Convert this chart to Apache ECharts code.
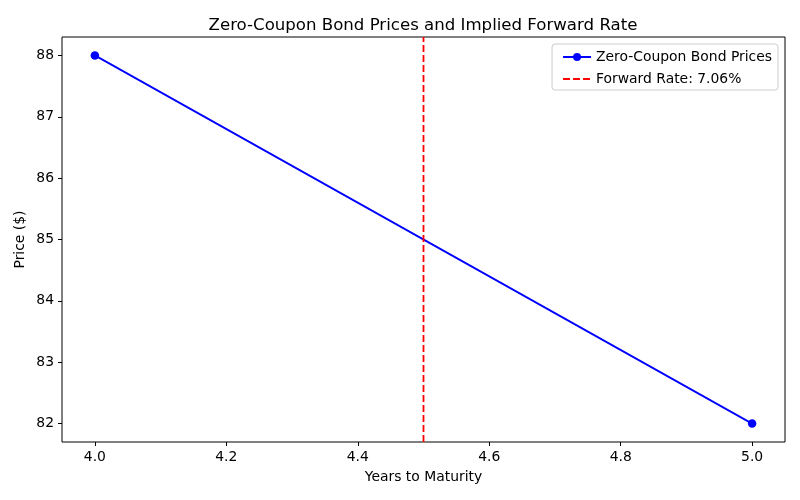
<!DOCTYPE html>
<html><head><meta charset="utf-8">
<script src="https://cdn.jsdelivr.net/npm/echarts@6/dist/echarts.min.js"></script>
<style>html,body{margin:0;padding:0;background:#fff}#c{width:800px;height:500px}</style>
</head><body><div id="c"></div>
<script>
const years = [4.0, 5.0];
const prices = [88, 82];
const forwardX = 4.5;
const forwardLabel = 'Forward Rate: 7.06%';
const xTicks = [4.0, 4.2, 4.4, 4.6, 4.8, 5.0];
const yTicks = [82, 83, 84, 85, 86, 87, 88];
const xRange = [3.95, 5.05];
const yRange = [81.7, 88.3];

const font = 'DejaVu Sans';
const fs = 13.9;
const chart = echarts.init(document.getElementById('c'));
chart.setOption({
  animation: false,
  backgroundColor: '#fff',
  textStyle: {fontFamily: font},
  title: {text: 'Zero-Coupon Bond Prices and Implied Forward Rate', left: 418, textAlign: 'center', top: 12,
    textStyle: {fontFamily: font, fontSize: 16.6, fontWeight: 'normal', color: '#000'}},
  grid: {left: 62, right: 15, top: 37, bottom: 58, show: true, borderColor: '#000', borderWidth: 1, backgroundColor: 'transparent'},
  legend: {
    right: 22, top: 44, orient: 'vertical', itemGap: 8, itemWidth: 28, itemHeight: 10,
    borderColor: '#ccc', borderWidth: 1, borderRadius: 3, padding: [6, 6, 4, 10],
    textStyle: {fontFamily: font, fontSize: fs, color: '#000'},
    data: [
      {name: 'Zero-Coupon Bond Prices'},
      {name: forwardLabel, itemStyle: {opacity: 0}}
    ]
  },
  xAxis: {
    type: 'value', min: xRange[0], max: xRange[1],
    name: 'Years to Maturity', nameLocation: 'middle', nameGap: 28, nameMoveOverlap: false,
    nameTextStyle: {fontFamily: font, fontSize: fs, color: '#000'},
    axisLine: {show: false}, splitLine: {show: false},
    axisTick: {show: true, inside: false, length: 4, customValues: xTicks, lineStyle: {color: '#000'}},
    axisLabel: {customValues: xTicks, fontFamily: font, fontSize: fs, color: '#000', margin: 8,
      formatter: v => v.toFixed(1)}
  },
  yAxis: {
    type: 'value', min: yRange[0], max: yRange[1],
    name: 'Price ($)', nameLocation: 'middle', nameGap: 35, nameMoveOverlap: false,
    nameTextStyle: {fontFamily: font, fontSize: fs, color: '#000'},
    axisLine: {show: false}, splitLine: {show: false},
    axisTick: {show: true, inside: false, length: 4, customValues: yTicks, lineStyle: {color: '#000'}},
    axisLabel: {customValues: yTicks, fontFamily: font, fontSize: fs, color: '#000', margin: 8,
      formatter: v => String(Math.round(v))}
  },
  series: [
    {
      name: 'Zero-Coupon Bond Prices', type: 'line',
      data: years.map((x, i) => [x, prices[i]]),
      color: '#0000ff', lineStyle: {color: '#0000ff', width: 1.8},
      symbol: 'circle', symbolSize: 8.5, itemStyle: {color: '#0000ff'}
    },
    {
      name: forwardLabel, type: 'line',
      data: [[forwardX, yRange[0]], [forwardX, yRange[1]]],
      color: '#ff0000', symbol: 'none',
      lineStyle: {color: '#ff0000', width: 1.8, type: [7, 3]}
    }
  ]
});
</script></body></html>
